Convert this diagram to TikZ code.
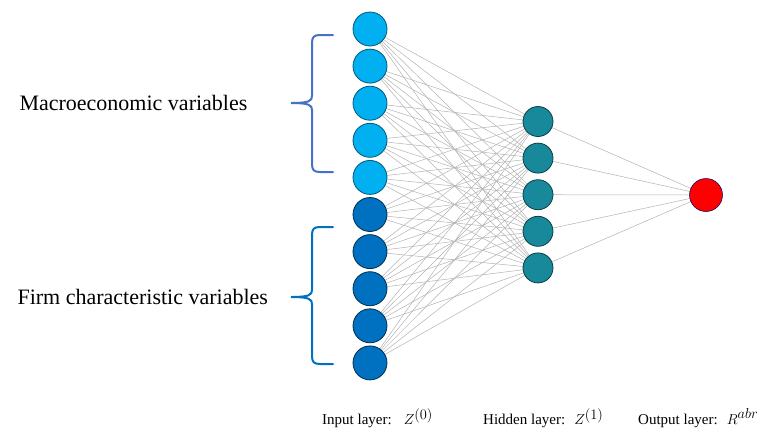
\documentclass[tikz,border=0pt]{standalone}
\usepackage{fontspec}
\setmainfont{Liberation Serif}
\usepackage{xcolor}
\usetikzlibrary{positioning,calc,backgrounds}

\definecolor{inlight}{HTML}{00B0F0}
\definecolor{indark}{HTML}{0070C0}
\definecolor{hidteal}{HTML}{17899A}
\definecolor{bracea}{HTML}{4472C4}
\definecolor{braceb}{HTML}{0070C0}

\tikzset{
  neuron/.style={circle,inner sep=0pt,line width=0.8pt},
  macro/.style={neuron,minimum size=34pt,fill=inlight,draw=inlight!50!black},
  firm/.style={neuron,minimum size=34pt,fill=indark,draw=indark!40!black},
  hidden/.style={neuron,minimum size=30pt,fill=hidteal,draw=hidteal!45!black},
  outnode/.style={neuron,minimum size=33pt,fill=red,draw=blue!40!black,line width=0.5pt},
  wire/.style={gray!60,line width=0.5pt},
  brace/.style={line width=2pt,line cap=round},
  sidelabel/.style={font=\fontsize{22}{24}\selectfont,anchor=west},
  layerlabel/.style={font=\fontsize{15}{17}\selectfont,anchor=west,inner sep=0pt}
}

\begin{document}
\begin{tikzpicture}[x=1pt,y=-1pt]
  \useasboundingbox (0,0) rectangle (769,432);
  % input layer: 5 macro + 5 firm
  \foreach \i in {0,...,4} \node[macro] (in\i) at (370,{29+37.1*\i}) {};
  \foreach \i in {5,...,9} \node[firm] (in\i) at (370,{29+37.1*\i}) {};
  % hidden layer
  \foreach \j in {1,...,5} \node[hidden] (hid\j) at (538,{121.5+36.6*(\j-1)}) {};
  % output
  \node[outnode] (out) at (706,195) {};
  % connections
  \begin{scope}[on background layer]
    \foreach \i in {0,...,9}
      \foreach \j in {1,...,5}
        \draw[wire] (in\i.center) -- (hid\j.center);
    \foreach \j in {1,...,5} \draw[wire] (hid\j.center) -- (out.center);
  \end{scope}
  % braces
  \draw[brace,bracea] (333,35) -- (320,35) .. controls (314,35) and (312,37) .. (312,43)
    -- (312,96) .. controls (312,101) and (309,103) .. (291,103)
    .. controls (309,103) and (312,105) .. (312,110)
    -- (312,164) .. controls (312,170) and (314,172) .. (320,172) -- (333,172);
  \draw[brace,braceb] (333,227) -- (320,227) .. controls (314,227) and (312,229) .. (312,235)
    -- (312,290) .. controls (312,295) and (309,297) .. (291,297)
    .. controls (309,297) and (312,299) .. (312,304)
    -- (312,356) .. controls (312,362) and (314,364) .. (320,364) -- (333,364);
  % labels
  \node[sidelabel] (macrolbl) at (16,103) {Macroeconomic variables};
  \node[sidelabel] (firmlbl) at (14,297) {Firm characteristic variables};
  \node[layerlabel] (inlbl) at (322,418) {Input layer:\hspace{12pt}$Z^{\textstyle(0)}$};
  \node[layerlabel] (hidlbl) at (483,418) {Hidden layer:\hspace{9pt}$Z^{\textstyle(1)}$};
  \node[layerlabel] (outlbl) at (638,418) {Output layer:\hspace{9pt}$R^{\textstyle abr}$};
\end{tikzpicture}
\end{document}
